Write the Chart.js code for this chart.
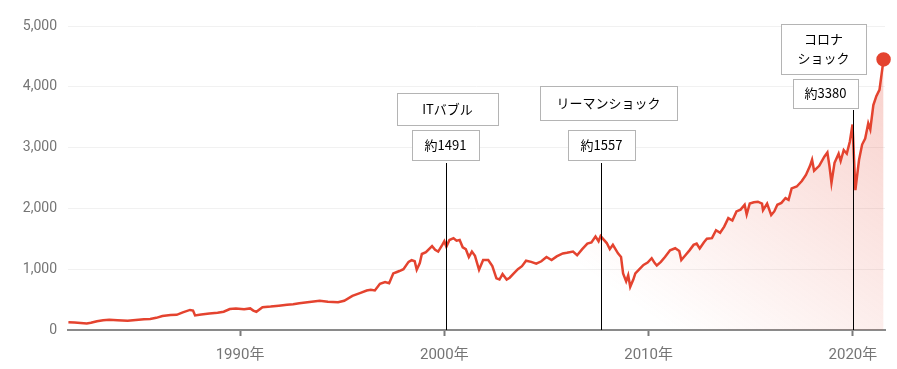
<!DOCTYPE html>
<html>
<head>
<meta charset="utf-8">
<script src="https://cdn.jsdelivr.net/npm/chart.js@4.4.1/dist/chart.umd.min.js"></script>
<style>
  html, body { margin: 0; padding: 0; background: #fff; }
  #wrap { width: 897px; height: 369px; }
</style>
</head>
<body>
<div id="wrap"><canvas id="spChart" width="897" height="369"></canvas></div>
<script>
// Index values (year as placed on the axis, value)
const years = [
  1981.6, 1981.9, 1982.2, 1982.5, 1982.7, 1983.0, 1983.3, 1983.6, 1984.0, 1984.5,
  1984.9, 1985.3, 1985.6, 1985.9, 1986.2, 1986.6, 1986.9, 1987.2, 1987.55, 1987.7,
  1987.8, 1988.1, 1988.5, 1988.9, 1989.2, 1989.5, 1989.8, 1990.2, 1990.5, 1990.65,
  1990.8, 1991.1, 1991.5, 1991.9, 1992.3, 1992.6, 1992.9, 1993.3, 1993.9, 1994.3,
  1994.8, 1995.1, 1995.5, 1995.9, 1996.2, 1996.4, 1996.6, 1996.85, 1997.1, 1997.3,
  1997.5, 1997.65, 1997.8, 1998.0, 1998.25, 1998.4, 1998.55, 1998.65, 1998.8, 1998.9,
  1999.1, 1999.4, 1999.55, 1999.7, 1999.9, 2000.0, 2000.1, 2000.25, 2000.45, 2000.6,
  2000.75, 2000.9, 2001.05, 2001.2, 2001.35, 2001.5, 2001.7, 2001.9, 2002.15, 2002.35,
  2002.55, 2002.7, 2002.85, 2003.05, 2003.2, 2003.4, 2003.6, 2003.8, 2004.0, 2004.25,
  2004.5, 2004.75, 2005.0, 2005.25, 2005.5, 2005.8, 2006.0, 2006.3, 2006.5, 2006.75,
  2007.0, 2007.2, 2007.4, 2007.55, 2007.65, 2007.95, 2008.1, 2008.25, 2008.5, 2008.65,
  2008.75, 2008.9, 2009.0, 2009.1, 2009.25, 2009.35, 2009.55, 2009.75, 2009.95, 2010.15,
  2010.3, 2010.4, 2010.6, 2010.8, 2011.05, 2011.3, 2011.5, 2011.6, 2011.8, 2012.0,
  2012.2, 2012.35, 2012.5, 2012.7, 2012.85, 2013.1, 2013.3, 2013.5, 2013.7, 2013.9,
  2014.1, 2014.3, 2014.5, 2014.7, 2014.8, 2014.95, 2015.15, 2015.35, 2015.55, 2015.6,
  2015.8, 2016.0, 2016.15, 2016.3, 2016.5, 2016.7, 2016.85, 2017.0, 2017.25, 2017.5,
  2017.7, 2017.9, 2018.0, 2018.1, 2018.35, 2018.6, 2018.75, 2018.85, 2018.95, 2019.1,
  2019.3, 2019.4, 2019.55, 2019.7, 2019.85, 2019.98, 2020.12, 2020.3, 2020.45, 2020.6,
  2020.75, 2020.85, 2021.0, 2021.15, 2021.3, 2021.4, 2021.5
];
const values = [
  127, 122, 115, 108, 118, 145, 162, 168, 160, 152,
  166, 178, 182, 200, 230, 247, 250, 290, 330, 320,
  240, 255, 270, 285, 300, 345, 355, 340, 355, 320,
  300, 375, 385, 400, 415, 425, 440, 455, 482, 465,
  455, 480, 560, 610, 650, 660, 650, 760, 790, 770,
  930, 950, 970, 1000, 1120, 1150, 1130, 990, 1100, 1250,
  1280, 1380, 1320, 1290, 1400, 1460, 1370, 1480, 1510, 1470,
  1480, 1360, 1330, 1200, 1290, 1220, 990, 1150, 1150, 1050,
  850, 830, 920, 830, 860, 930, 1000, 1050, 1140, 1120,
  1090, 1130, 1200, 1150, 1210, 1260, 1270, 1290, 1230, 1330,
  1420, 1440, 1537, 1460, 1545, 1430, 1330, 1400, 1260, 1200,
  930, 800, 900, 710, 830, 930, 1000, 1070, 1110, 1180,
  1100, 1060, 1120, 1200, 1310, 1345, 1300, 1150, 1230, 1310,
  1400, 1420, 1340, 1440, 1500, 1510, 1640, 1600, 1700, 1840,
  1800, 1950, 1980, 2060, 1900, 2080, 2100, 2110, 2080, 1970,
  2080, 1890, 1950, 2060, 2090, 2170, 2140, 2330, 2360, 2450,
  2550, 2700, 2800, 2620, 2700, 2850, 2920, 2700, 2420, 2750,
  2900, 2780, 2960, 2900, 3100, 3380, 2300, 2800, 3050, 3150,
  3400, 3300, 3700, 3850, 3950, 4200, 4450
];

const xTicks = [1990, 2000, 2010, 2020];
const yTicks = [0, 1000, 2000, 3000, 4000, 5000];

// Annotated events
const eventYears = [2000.1, 2007.65, 2019.98];
const eventNames = [['ITバブル'], ['リーマンショック'], ['コロナ', 'ショック']];
const eventValues = ['約1491', '約1557', '約3380'];

// Box layout relative to each event line (pixels)
const eventBoxes = [
  { name: [-50, 51, 93, 125], val: [-35, 32, 130, 160], lineTop: 163 },
  { name: [-62, 75, 86, 120], val: [-34, 33, 130, 160], lineTop: 163 },
  { name: [-73, 12, 24, 74], val: [-61, 4, 79, 108], lineTop: 110 }
];

const RED = '#e4432f';

const eventPlugin = {
  id: 'events',
  afterDatasetsDraw(chart) {
    const ctx = chart.ctx;
    const xs = chart.scales.x;
    const bottom = chart.chartArea.bottom;
    ctx.save();
    eventYears.forEach((yr, i) => {
      const x = Math.round(xs.getPixelForValue(yr)) + 0.5;
      const b = eventBoxes[i];
      // vertical marker
      ctx.strokeStyle = '#000';
      ctx.lineWidth = 1;
      ctx.beginPath();
      ctx.moveTo(x, bottom);
      ctx.lineTo(x, b.lineTop);
      ctx.stroke();

      const drawBox = (r, lines) => {
        const l = Math.round(x + r[0]), rt = Math.round(x + r[1]);
        ctx.fillStyle = '#fff';
        ctx.fillRect(l, r[2], rt - l, r[3] - r[2]);
        ctx.strokeStyle = '#b4b4b4';
        ctx.strokeRect(l + 0.5, r[2] + 0.5, rt - l, r[3] - r[2]);
        ctx.fillStyle = '#000';
        ctx.font = '13px "Noto Sans CJK JP", sans-serif';
        ctx.textAlign = 'center';
        ctx.textBaseline = 'middle';
        const cx = (l + rt) / 2, cy = (r[2] + r[3]) / 2;
        const lh = 19;
        lines.forEach((t, k) => {
          ctx.fillText(t, cx, cy + (k - (lines.length - 1) / 2) * lh);
        });
      };
      drawBox(b.name, eventNames[i]);
      drawBox(b.val, [eventValues[i]]);
    });
    ctx.restore();
  }
};

Chart.defaults.font.family = 'Roboto, "Noto Sans CJK JP", sans-serif';

new Chart(document.getElementById('spChart'), {
  type: 'line',
  data: {
    datasets: [{
      data: years.map((y, i) => ({ x: y, y: values[i] })),
      borderColor: RED,
      borderWidth: 2.5,
      tension: 0,
      clip: false,
      fill: 'origin',
      backgroundColor: (c) => {
        const chart = c.chart;
        const a = chart.chartArea;
        if (!a) return 'transparent';
        const x0 = chart.scales.x.getPixelForValue(2011);
        const g = chart.ctx.createLinearGradient(x0, a.bottom, a.right, a.top);
        g.addColorStop(0, 'rgba(228,67,47,0)');
        g.addColorStop(1, 'rgba(228,67,47,0.27)');
        return g;
      },
      pointRadius: (c) => c.dataIndex === values.length - 1 ? 6 : 0,
      pointBackgroundColor: RED,
      pointBorderColor: RED,
      pointHoverRadius: 0
    }]
  },
  options: {
    responsive: false,
    animation: false,
    layout: { padding: { top: 26, right: 12, left: 0, bottom: 0 } },
    plugins: {
      legend: { display: false },
      tooltip: { enabled: false }
    },
    scales: {
      x: {
        type: 'linear',
        min: 1981.58,
        max: 2021.57,
        afterBuildTicks: (s) => { s.ticks = xTicks.map(v => ({ value: v })); },
        afterFit: (s) => { s.height = 39; },
        grid: { drawOnChartArea: false, drawTicks: true, tickLength: 6, tickColor: '#7a7a7a', tickWidth: 2 },
        border: { color: '#8a8a8a', width: 2 },
        ticks: {
          padding: 10,
          color: '#757575',
          font: { size: 15 },
          maxRotation: 0,
          autoSkip: false,
          callback: (v) => v + '年'
        }
      },
      y: {
        min: 0,
        max: 5000,
        afterBuildTicks: (s) => { s.ticks = yTicks.map(v => ({ value: v })); },
        afterFit: (s) => { s.width = 68; },
        grid: { color: '#f1f1f1', drawTicks: false },
        border: { display: false },
        ticks: {
          padding: 11,
          color: '#757575',
          font: { size: 14 },
          callback: (v) => v.toLocaleString('en-US')
        }
      }
    }
  },
  plugins: [eventPlugin]
});
</script>
</body>
</html>
